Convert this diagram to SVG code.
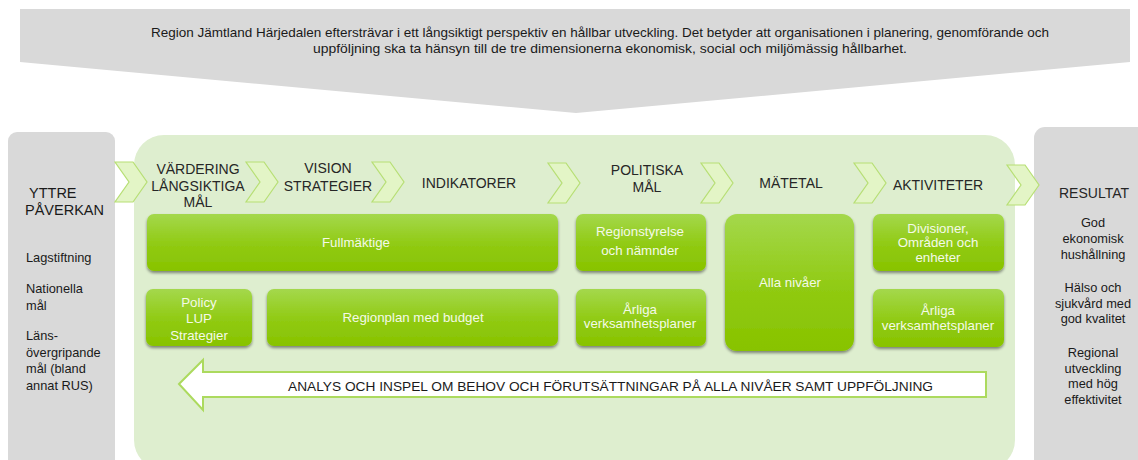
<svg xmlns="http://www.w3.org/2000/svg" width="1138" height="460" viewBox="0 0 1138 460">
  <defs>
    <linearGradient id="boxGrad" x1="0" y1="0" x2="0" y2="1">
      <stop offset="0" stop-color="#a4d84c"/>
      <stop offset="0.55" stop-color="#90ca12"/>
      <stop offset="1" stop-color="#88c300"/>
    </linearGradient>
    <filter id="shadow" x="-10%" y="-10%" width="120%" height="130%">
      <feGaussianBlur in="SourceAlpha" stdDeviation="1.6"/>
      <feOffset dx="0" dy="2" result="b"/>
      <feComponentTransfer><feFuncA type="linear" slope="0.45"/></feComponentTransfer>
      <feMerge><feMergeNode/><feMergeNode in="SourceGraphic"/></feMerge>
    </filter>
    <path id="chev" d="M0,0 h18 l14,20 l-14,20 h-18 l14,-20 z"/>
  </defs>
  <style>
    text { font-family: "Liberation Sans", Arial, sans-serif; }
    .hdr { font-size: 14px; fill: #262626; text-anchor: middle; }
    .side { font-size: 12.8px; fill: #1a1a1a; }
    .res { font-size: 12.8px; fill: #1a1a1a; text-anchor: middle; }
    .box { fill: url(#boxGrad); filter: url(#shadow); }
    .bt { font-size: 13.3px; fill: #f4fae8; text-anchor: middle; }
    .chev { fill: #e3f5c6; stroke: #b7df74; stroke-width: 1.2; }
    .ban { font-size: 12.4px; fill: #1a1a1a; }
  </style>
  <rect width="1138" height="460" fill="#ffffff"/>

  <g id="banner">
    <polygon points="20,9 1130,9 1130,62 576,113 20,62" fill="#d9d9d9"/>
    <text class="ban" x="151" y="37" textLength="898" lengthAdjust="spacingAndGlyphs">Region Jämtland Härjedalen eftersträvar i ett långsiktigt  perspektiv en hållbar utveckling.  Det betyder att organisationen i planering,  genomförande och</text>
    <text class="ban" x="313" y="53" textLength="594" lengthAdjust="spacingAndGlyphs">uppföljning  ska ta hänsyn till de tre dimensionerna ekonomisk, social och miljömässig hållbarhet.</text>
  </g>

  <g id="yttre">
    <rect x="8" y="132" width="107" height="345" rx="9" fill="#d9d9d9"/>
    <text class="side" x="29" y="198" style="font-size:14.5px">YTTRE</text>
    <text class="side" x="25" y="215" style="font-size:14.5px">PÅVERKAN</text>
    <text class="side" x="26" y="262">Lagstiftning</text>
    <text class="side" x="26" y="293">Nationella</text>
    <text class="side" x="26" y="310">mål</text>
    <text class="side" x="26" y="340">Läns-</text>
    <text class="side" x="26" y="357">övergripande</text>
    <text class="side" x="26" y="373">mål (bland</text>
    <text class="side" x="26" y="390">annat RUS)</text>
  </g>

  <g id="process">
    <rect x="134" y="135" width="881" height="335" rx="30" fill="#deeecf"/>
  </g>

  <g id="resultat">
    <rect x="1034" y="127" width="120" height="350" rx="11" fill="#d9d9d9"/>
    <text class="hdr" x="1094" y="198">RESULTAT</text>
    <text class="res" x="1093" y="227">God</text>
    <text class="res" x="1093" y="243">ekonomisk</text>
    <text class="res" x="1093" y="259">hushållning</text>
    <text class="res" x="1093" y="292">Hälso och</text>
    <text class="res" x="1093" y="308">sjukvård med</text>
    <text class="res" x="1093" y="323">god kvalitet</text>
    <text class="res" x="1093" y="357">Regional</text>
    <text class="res" x="1093" y="373">utveckling</text>
    <text class="res" x="1093" y="388">med hög</text>
    <text class="res" x="1093" y="404">effektivitet</text>
  </g>

  <g id="connectors">
    <use href="#chev" class="chev" x="115" y="162"/>
    <use href="#chev" class="chev" x="246" y="162"/>
    <use href="#chev" class="chev" x="372" y="162"/>
    <use href="#chev" class="chev" x="548" y="163"/>
    <use href="#chev" class="chev" x="701" y="163"/>
    <use href="#chev" class="chev" x="854" y="163"/>
    <use href="#chev" class="chev" x="1007" y="165"/>
    <path d="M179,384 L203,360 L203,372 L986,372 L986,397 L203,397 L203,410 Z" fill="#ffffff" stroke="#acda5e" stroke-width="2"/>
    <text x="288" y="391" style="font-size:13px" fill="#1a1a1a" textLength="645" lengthAdjust="spacingAndGlyphs">ANALYS OCH INSPEL OM BEHOV OCH FÖRUTSÄTTNINGAR PÅ ALLA NIVÅER  SAMT UPPFÖLJNING</text>
  </g>

  <g id="headers">
    <text class="hdr" x="198" y="174">VÄRDERING</text>
    <text class="hdr" x="198" y="191">LÅNGSIKTIGA</text>
    <text class="hdr" x="198" y="207">MÅL</text>
    <text class="hdr" x="328" y="173">VISION</text>
    <text class="hdr" x="328" y="191">STRATEGIER</text>
    <text class="hdr" x="469" y="188">INDIKATORER</text>
    <text class="hdr" x="647" y="175">POLITISKA</text>
    <text class="hdr" x="647" y="192">MÅL</text>
    <text class="hdr" x="791" y="188">MÄTETAL</text>
    <text class="hdr" x="938" y="190">AKTIVITETER</text>
  </g>

  <g id="fullmaktige">
    <rect class="box" x="147" y="214" width="411" height="57" rx="7"/>
    <text class="bt" x="356" y="247">Fullmäktige</text>
  </g>
  <g id="policy">
    <rect class="box" x="146" y="289" width="106" height="57" rx="7"/>
    <text class="bt" x="199" y="307">Policy</text>
    <text class="bt" x="199" y="323">LUP</text>
    <text class="bt" x="199" y="340">Strategier</text>
  </g>
  <g id="regionplan">
    <rect class="box" x="267" y="289" width="291" height="57" rx="7"/>
    <text class="bt" x="413" y="322">Regionplan  med budget</text>
  </g>
  <g id="regionstyrelse">
    <rect class="box" x="576" y="214" width="130" height="57" rx="7"/>
    <text class="bt" x="640" y="236">Regionstyrelse</text>
    <text class="bt" x="640" y="255">och nämnder</text>
  </g>
  <g id="arliga1">
    <rect class="box" x="576" y="289" width="130" height="57" rx="7"/>
    <text class="bt" x="640" y="314">Årliga</text>
    <text class="bt" x="640" y="328">verksamhetsplaner</text>
  </g>
  <g id="alla">
    <rect class="box" x="725" y="214" width="129" height="137" rx="12"/>
    <text class="bt" x="790" y="287">Alla  nivåer</text>
  </g>
  <g id="divisioner">
    <rect class="box" x="873" y="214" width="131" height="57" rx="7"/>
    <text class="bt" x="938" y="233">Divisioner,</text>
    <text class="bt" x="938" y="247">Områden och</text>
    <text class="bt" x="938" y="262">enheter</text>
  </g>
  <g id="arliga2">
    <rect class="box" x="873" y="289" width="131" height="58" rx="7"/>
    <text class="bt" x="938" y="315">Årliga</text>
    <text class="bt" x="938" y="330">verksamhetsplaner</text>
  </g>
</svg>
